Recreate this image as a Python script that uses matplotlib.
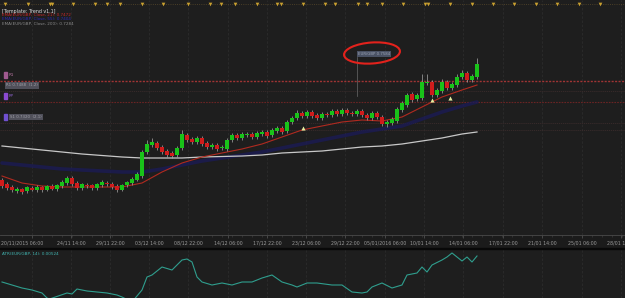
import matplotlib
matplotlib.use("Agg")
import matplotlib.pyplot as plt
from matplotlib.patches import Ellipse, Rectangle
import numpy as np

W, H = 625, 298
BG = "#1e1e1e"
GREEN = "#19c219"
RED = "#d01c1c"

# candles (EUR/GBP)
opens = [0.7092, 0.7076, 0.7064, 0.7048, 0.7056, 0.7048, 0.7060, 0.7052, 0.7064, 0.7052,
         0.7068, 0.7056, 0.7068, 0.7080, 0.7100, 0.7080, 0.7060, 0.7072, 0.7072, 0.7060,
         0.7072, 0.7080, 0.7076, 0.7068, 0.7052, 0.7072, 0.7080, 0.7092, 0.7108, 0.7204,
         0.7232, 0.7240, 0.7224, 0.7208, 0.7200, 0.7192, 0.7220, 0.7272, 0.7256, 0.7244,
         0.7260, 0.7240, 0.7224, 0.7232, 0.7220, 0.7216, 0.7252, 0.7272, 0.7260, 0.7272,
         0.7276, 0.7264, 0.7276, 0.7284, 0.7272, 0.7288, 0.7300, 0.7288, 0.7324, 0.7340,
         0.7360, 0.7348, 0.7364, 0.7352, 0.7340, 0.7356, 0.7352, 0.7368, 0.7356, 0.7372,
         0.7360, 0.7356, 0.7368, 0.7352, 0.7340, 0.7360, 0.7344, 0.7316, 0.7320, 0.7328,
         0.7372, 0.7392, 0.7436, 0.7416, 0.7420, 0.7480, 0.7484, 0.7432, 0.7448, 0.7484,
         0.7460, 0.7472, 0.7504, 0.7520, 0.7492, 0.7504]
closes = [0.7068, 0.7060, 0.7052, 0.7056, 0.7044, 0.7064, 0.7052, 0.7064, 0.7052, 0.7068,
          0.7056, 0.7072, 0.7084, 0.7100, 0.7076, 0.7060, 0.7076, 0.7068, 0.7060, 0.7076,
          0.7084, 0.7076, 0.7064, 0.7052, 0.7072, 0.7084, 0.7096, 0.7116, 0.7204, 0.7236,
          0.7244, 0.7220, 0.7204, 0.7192, 0.7188, 0.7220, 0.7276, 0.7252, 0.7244, 0.7260,
          0.7236, 0.7224, 0.7232, 0.7216, 0.7224, 0.7252, 0.7272, 0.7260, 0.7276, 0.7276,
          0.7264, 0.7280, 0.7284, 0.7268, 0.7292, 0.7300, 0.7284, 0.7324, 0.7340, 0.7360,
          0.7348, 0.7364, 0.7348, 0.7340, 0.7356, 0.7352, 0.7368, 0.7356, 0.7372, 0.7360,
          0.7356, 0.7368, 0.7352, 0.7340, 0.7360, 0.7344, 0.7316, 0.7324, 0.7336, 0.7376,
          0.7400, 0.7432, 0.7412, 0.7432, 0.7484, 0.7484, 0.7432, 0.7452, 0.7484, 0.7460,
          0.7476, 0.7504, 0.7520, 0.7492, 0.7508, 0.7556]
highs = [0.7100, 0.7084, 0.7072, 0.7064, 0.7060, 0.7068, 0.7068, 0.7072, 0.7068, 0.7072,
         0.7076, 0.7076, 0.7092, 0.7108, 0.7108, 0.7088, 0.7080, 0.7080, 0.7076, 0.7080,
         0.7092, 0.7088, 0.7084, 0.7076, 0.7076, 0.7088, 0.7104, 0.7124, 0.7212, 0.7252,
         0.7260, 0.7248, 0.7232, 0.7216, 0.7208, 0.7228, 0.7292, 0.7280, 0.7264, 0.7268,
         0.7268, 0.7248, 0.7240, 0.7240, 0.7232, 0.7260, 0.7280, 0.7280, 0.7284, 0.7284,
         0.7284, 0.7288, 0.7292, 0.7292, 0.7300, 0.7308, 0.7308, 0.7332, 0.7348, 0.7372,
         0.7368, 0.7372, 0.7372, 0.7360, 0.7364, 0.7364, 0.7376, 0.7376, 0.7380, 0.7380,
         0.7368, 0.7376, 0.7376, 0.7360, 0.7368, 0.7368, 0.7352, 0.7332, 0.7344, 0.7384,
         0.7408, 0.7440, 0.7444, 0.7440, 0.7516, 0.7516, 0.7492, 0.7460, 0.7496, 0.7492,
         0.7484, 0.7516, 0.7532, 0.7528, 0.7516, 0.7580]
lows = [0.7060, 0.7052, 0.7044, 0.7040, 0.7036, 0.7040, 0.7048, 0.7044, 0.7044, 0.7048,
        0.7052, 0.7048, 0.7060, 0.7072, 0.7068, 0.7052, 0.7052, 0.7060, 0.7052, 0.7052,
        0.7064, 0.7068, 0.7056, 0.7044, 0.7048, 0.7064, 0.7072, 0.7088, 0.7100, 0.7196,
        0.7224, 0.7212, 0.7196, 0.7184, 0.7180, 0.7184, 0.7212, 0.7244, 0.7236, 0.7236,
        0.7228, 0.7216, 0.7216, 0.7208, 0.7212, 0.7208, 0.7244, 0.7252, 0.7252, 0.7264,
        0.7256, 0.7256, 0.7268, 0.7260, 0.7264, 0.7280, 0.7276, 0.7280, 0.7316, 0.7332,
        0.7340, 0.7340, 0.7340, 0.7332, 0.7332, 0.7344, 0.7344, 0.7348, 0.7348, 0.7352,
        0.7348, 0.7348, 0.7344, 0.7332, 0.7332, 0.7336, 0.7308, 0.7304, 0.7312, 0.7320,
        0.7364, 0.7384, 0.7404, 0.7408, 0.7412, 0.7472, 0.7424, 0.7424, 0.7440, 0.7452,
        0.7452, 0.7464, 0.7496, 0.7484, 0.7484, 0.7496]

# moving averages, sampled every 4 bars
ma_idx = [0, 4, 8, 12, 16, 20, 24, 28, 32, 36, 40, 44, 48, 52, 56, 60, 64, 68, 72, 76,
          80, 84, 88, 92, 95]
ema200 = [0.7228, 0.7220, 0.7212, 0.7204, 0.7196, 0.7190, 0.7184, 0.7180, 0.7180, 0.7180,
          0.7184, 0.7186, 0.7188, 0.7192, 0.7200, 0.7204, 0.7208, 0.7216, 0.7224, 0.7228,
          0.7236, 0.7248, 0.7260, 0.7276, 0.7284]
ema21 = [0.7108, 0.7080, 0.7068, 0.7064, 0.7064, 0.7064, 0.7064, 0.7080, 0.7124, 0.7160,
         0.7184, 0.7200, 0.7216, 0.7236, 0.7264, 0.7292, 0.7308, 0.7324, 0.7332, 0.7328,
         0.7344, 0.7384, 0.7424, 0.7452, 0.7472]
ema55 = [0.7160, 0.7152, 0.7144, 0.7136, 0.7132, 0.7128, 0.7124, 0.7124, 0.7136, 0.7152,
         0.7168, 0.7180, 0.7192, 0.7204, 0.7220, 0.7236, 0.7252, 0.7268, 0.7284, 0.7296,
         0.7308, 0.7336, 0.7364, 0.7388, 0.7404]

# levels
level_top = 0.7796
level_r1 = 0.7488
level_pp = 0.7404
levels_dim = [0.7448, 0.7320, 0.7292]

# signal arrows
arrow_idx = [60.2, 86.0, 89.6]
arrow_px = [0.7300, 0.7412, 0.7420]

# session markers along the top
sess_idx = [0.6, 5.2, 9.6, 10.0, 14.2, 18.6, 21.0, 23.6, 28.0, 32.2, 37.2, 41.6, 43.8,
            46.6, 51.0, 55.0, 55.8, 60.2, 64.6, 66.6, 71.2, 73.0, 76.0, 80.2, 84.6, 85.2,
            89.6, 94.0, 98.2, 102.4, 106.8, 111.0, 115.4, 119.6]

# time axis
tick_idx = [6.0, 13.8, 21.6, 29.4, 37.2, 45.2, 53.0, 60.8, 68.6, 76.6, 84.4, 92.2,
            100.2, 108.0, 116.0, 123.8]
tick_lbl = ["20/11/2015 06:00", "24/11 14:00", "29/11 22:00", "03/12 14:00",
            "08/12 22:00", "14/12 06:00", "17/12 22:00", "23/12 06:00", "29/12 22:00",
            "05/01/2016 06:00", "10/01 14:00", "14/01 06:00", "17/01 22:00",
            "21/01 14:00", "25/01 06:00", "28/01 14:00"]

# ATR(14)
atr_idx = [0, 2, 4, 6, 8, 9, 11, 12, 13, 14, 15, 17, 19, 21, 23, 24, 26, 28, 29, 30, 32,
           34, 36, 37, 38, 39, 40, 42, 44, 46, 48, 50, 52, 54, 56, 58, 59, 61, 63, 66, 68,
           70, 72, 73, 74, 76, 78, 80, 81, 83, 84, 85, 86, 88, 89, 90, 91, 92, 93, 94, 95]
atr = [0.00394, 0.00379, 0.00364, 0.00354, 0.00339, 0.00314, 0.00294, 0.00309, 0.00339,
       0.00334, 0.00359, 0.00349, 0.00344, 0.00339, 0.00329, 0.00319, 0.00294, 0.00354,
       0.00419, 0.00429, 0.00469, 0.00454, 0.00504, 0.00509, 0.00494, 0.00419, 0.00394,
       0.00379, 0.00389, 0.00379, 0.00394, 0.00394, 0.00414, 0.00429, 0.00394, 0.00379,
       0.00369, 0.00389, 0.00389, 0.00379, 0.00379, 0.00344, 0.00339, 0.00344, 0.00369,
       0.00389, 0.00364, 0.00379, 0.00429, 0.00439, 0.00469, 0.00444, 0.00479, 0.00504,
       0.00519, 0.00539, 0.00519, 0.00499, 0.00519, 0.00494, 0.00524]


def fx(px):
    return px / W


def fy(py):
    return 1 - py / H


fig = plt.figure(figsize=(W / 100, H / 100), dpi=100, facecolor="#1b1b1b")
ax = fig.add_axes([0, fy(235), 1, 235 / H], facecolor=BG)
ax2 = fig.add_axes([0, 0, 1, 49 / H], facecolor=BG)

for a in (ax, ax2):
    a.set_xlim(-0.4, 124.6)
    for s in a.spines.values():
        s.set_visible(False)
    a.set_yticks([])
    for t in tick_idx:
        a.axvline(t, color="#2c2c2c", lw=0.6, ls=(0, (3, 2)), zorder=0)

ax.set_ylim(0.6872, 0.7812)
ax2.set_ylim(0.00314, 0.00559)

ax.spines["bottom"].set_visible(True)
ax.spines["bottom"].set_color("#4a4a4a")
ax.spines["bottom"].set_linewidth(0.6)
ax.set_xticks(tick_idx)
ax.set_xticklabels([""] + tick_lbl[1:], fontsize=3.4, color="#9a9a9a")
ax.set_xticks(np.arange(2, 125, 2), minor=True)
ax.tick_params(axis="x", which="major", length=2.5, width=0.5, color="#5a5a5a", pad=1.5)
ax.tick_params(axis="x", which="minor", length=1.5, width=0.4, color="#444444")
fig.text(fx(1), fy(243), tick_lbl[0], fontsize=3.4, color="#9a9a9a", va="center")
ax2.set_xticks([])

# levels
ax.axhline(level_top, color="#5a4a2a", lw=0.6, ls=":", zorder=1)
ax.axhline(level_r1, color="#a03434", lw=1.0, ls=(0, (1.5, 1)), zorder=1)
ax.axhline(level_pp, color="#6a2424", lw=0.8, ls=(0, (1.5, 1)), zorder=1)
for lv in levels_dim:
    ax.axhline(lv, color="#3a2c2c", lw=0.6, ls=(0, (1.5, 1)), zorder=1)

# averages
ax.plot(ma_idx, ema55, color="#1a1a58", lw=2.6, alpha=0.75, zorder=2,
        solid_capstyle="round")
ax.plot(ma_idx, ema200, color="#c8c8c8", lw=0.9, zorder=3)
ax.plot(ma_idx, ema21, color="#b02a20", lw=0.8, zorder=3)

# candles
o = np.array(opens)
c = np.array(closes)
idx = np.arange(len(c))
col = np.where(c >= o, GREEN, RED)
ax.vlines(idx, lows, highs, color="#a8a8a8", lw=0.5, zorder=4)
ax.bar(idx, np.maximum(np.abs(c - o), 0.0004), bottom=np.minimum(o, c), width=0.62,
       color=col, zorder=5)

ax.scatter(arrow_idx, arrow_px, marker="^", s=9, color="#e4eca0", zorder=6, lw=0)
ax.scatter(sess_idx, [0.7797] * len(sess_idx), marker="v", s=7, color="#c9a030",
           zorder=6, lw=0)

# callout with red circle
ax.plot([71, 71], [0.7584, 0.7428], color="#6a6a6a", lw=0.5, zorder=4)
ax.text(71.2, 0.7596, "EUR/GBP 0.7584", fontsize=2.8, color="#9aa2b4", va="center",
        bbox=dict(boxstyle="square,pad=0.3", fc="#4a5264", ec="none"), zorder=7)
fig.add_artist(Ellipse((3.72, (H - 53) / 100), 0.56, 0.21, angle=4, fill=False,
                       ec="#e3221c", lw=1.5, transform=fig.dpi_scale_trans))

# left level labels
for py, swatch, txt, tc in [(75, "#a05a90", "R1", "#b0709c"),
                            (96, "#8a4ad0", "PP", "#8a60c8"),
                            (117, "#7050d0", "", "#8a60c8")]:
    fig.add_artist(Rectangle((fx(4), fy(py + 3)), 3 / W, 6 / H, color=swatch,
                             transform=fig.transFigure))
    if txt:
        fig.text(fx(9), fy(py), txt, fontsize=3, color=tc, va="center")
fig.text(fx(6), fy(85.5), "R1 0.7488  (1.2)", fontsize=2.8, color="#a0a0a8", va="center",
         bbox=dict(boxstyle="square,pad=0.3", fc="#50505a", ec="none"))
fig.text(fx(10), fy(117), "S1 0.7320  (2.1)", fontsize=2.8, color="#a0a0a8", va="center",
         bbox=dict(boxstyle="square,pad=0.3", fc="#50505a", ec="none"))

# header texts
fig.text(fx(2), fy(11), "[Template: Trend v1.1]", fontsize=3.4, color="#e0e0e0",
         va="center")
fig.text(fx(2), fy(15.5), "EMA(EUR/GBP, Close, 21): 0.7472", fontsize=3.0,
         color="#c82828", va="center")
fig.text(fx(2), fy(19.5), "EMA(EUR/GBP, Close, 55): 0.7404", fontsize=3.0,
         color="#2a2ab0", va="center")
fig.text(fx(2), fy(24), "EMA(EUR/GBP, Close, 200): 0.7284", fontsize=3.0,
         color="#8a8a8a", va="center")

# separator between panels
fig.add_artist(Rectangle((0, fy(249)), 1, 1.2 / H, color="#080808",
                         transform=fig.transFigure))

# ATR panel
ax2.plot(atr_idx, atr, color="#2f9e8e", lw=0.8)
ax2.text(0.003, 0.9, "ATR(EUR/GBP, 14): 0.00524", transform=ax2.transAxes,
         fontsize=3.0, color="#40b4b0", va="center")

fig.savefig("out.png", dpi=100, facecolor=fig.get_facecolor())
